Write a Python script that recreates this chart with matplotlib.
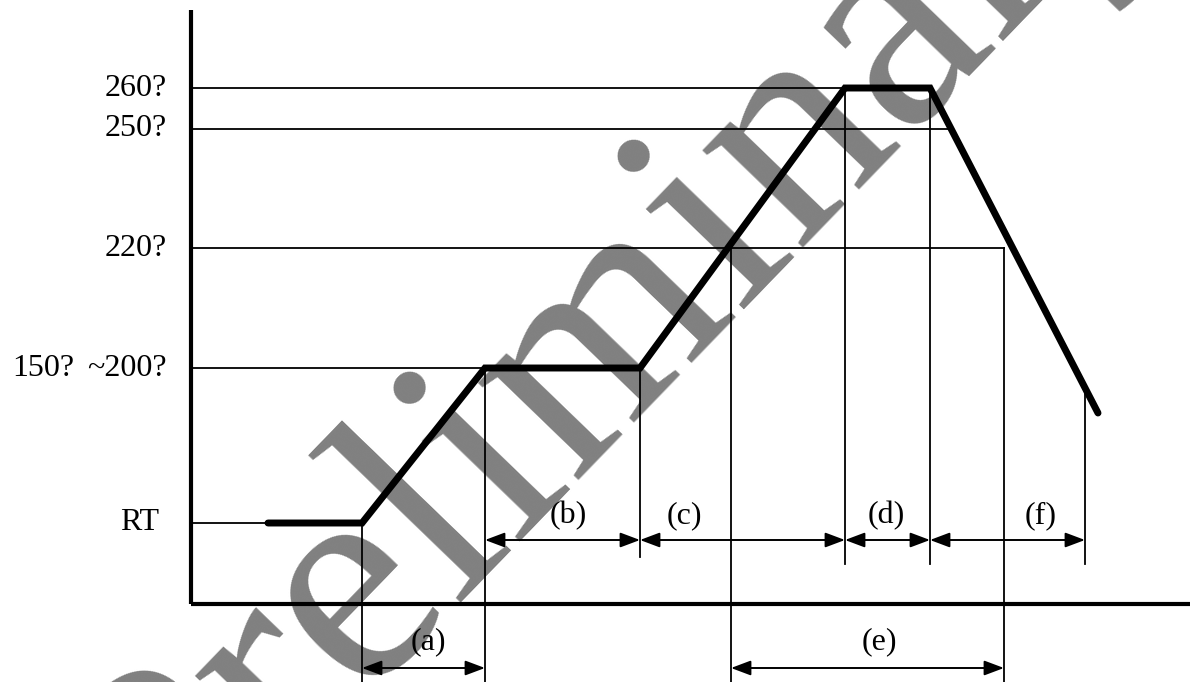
import matplotlib
matplotlib.use("Agg")
from matplotlib import pyplot as plt

# schematic reflow profile (arbitrary time units / schematic heights)
level_labels = ["RT", "~200?", "220?", "250?", "260?"]
level_y = [0.81, 2.36, 3.56, 4.75, 5.16]
level_end = [0.77, 2.94, 8.13, 7.58, 6.54]   # where each guide line stops

profile_t = [0.77, 1.71, 2.94, 4.49, 6.54, 7.39, 9.07]
profile_y = [0.81, 0.81, 2.36, 2.36, 5.16, 5.16, 1.91]

# vertical marker lines: time, top, bottom
mark_t = [1.71, 2.94, 4.49, 5.40, 6.54, 7.39, 8.13, 8.94]
mark_top = [0.81, 2.36, 2.36, 3.56, 5.16, 5.16, 3.56, 2.10]
mark_bot = [-0.78, -0.78, 0.47, -0.78, 0.40, 0.40, -0.78, 0.40]

# intervals
int_names = ["(a)", "(b)", "(c)", "(d)", "(e)", "(f)"]
int_start = [1.71, 2.94, 4.49, 6.54, 5.40, 7.39]
int_end = [2.94, 4.49, 6.54, 7.39, 8.13, 8.94]
int_row = [2, 1, 1, 1, 2, 1]
int_lbl_x = [2.37, 3.77, 4.93, 6.95, 6.88, 8.50]

row_y = {1: 0.64, 2: -0.64}
row_lbl_y = {1: 0.88, 2: -0.38}

plt.rcParams['font.family'] = ['Liberation Serif', 'DejaVu Serif']

fig = plt.figure(figsize=(11.9, 6.82), dpi=100)
ax = fig.add_axes([0, 0, 1, 1])
ax.set_xlim(-1.91, 9.99)
ax.set_ylim(-0.78, 6.04)
ax.axis('off')

# watermark behind everything
fig.text(0.5656, 0.4509, "Preliminary", fontsize=220, color='#808080',
         rotation=46, rotation_mode='anchor', ha='center', va='baseline',
         zorder=0)
ax.set_zorder(1)
ax.patch.set_alpha(0)

# axes
ax.plot([0, 0], [0, 5.94], color='black', lw=3.0, solid_capstyle='butt')
ax.plot([0, 9.99], [0, 0], color='black', lw=3.0, solid_capstyle='butt')

# guide lines
for y, xe in zip(level_y, level_end):
    ax.plot([0, xe], [y, y], color='black', lw=1.3)
for t, y0, y1 in zip(mark_t, mark_top, mark_bot):
    ax.plot([t, t], [y0, y1], color='black', lw=1.3)

# profile
ax.plot(profile_t, profile_y, color='black', lw=5, solid_capstyle='round',
        solid_joinstyle='miter')

# y labels
for lbl, y in zip(level_labels, level_y):
    xr = -0.32 if lbl == "RT" else -0.24
    ax.text(xr, y, lbl, fontsize=23, ha='right', va='center')
ax.text(-1.79, level_y[1], "150?", fontsize=23, ha='left', va='center')

# interval arrows
for name, s, e, r, lx in zip(int_names, int_start, int_end, int_row, int_lbl_x):
    ax.annotate("", xy=(e, row_y[r]), xytext=(s, row_y[r]),
                arrowprops=dict(arrowstyle='<|-|>,head_length=0.8,head_width=0.3',
                                mutation_scale=15, color='black', lw=1.4,
                                shrinkA=0, shrinkB=0))
    ax.text(lx, row_lbl_y[r], name, fontsize=23, ha='center', va='center')

fig.savefig("out.png", dpi=100)
